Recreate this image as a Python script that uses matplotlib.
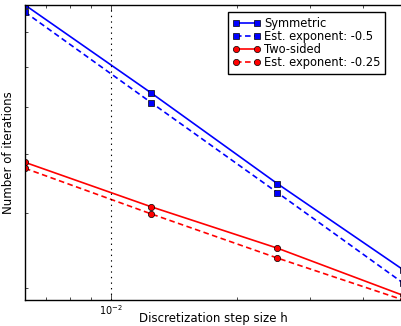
import numpy as np
import matplotlib
matplotlib.use("Agg")
import matplotlib.pyplot as plt
from matplotlib.ticker import NullFormatter, LogFormatterSciNotation

plt.style.use('classic')
plt.rcParams['font.family'] = ['DejaVu Sans']
plt.rcParams['mathtext.fontset'] = 'dejavusans'
plt.rcParams['font.size'] = 8

# step sizes and iteration counts
h = [1/160, 1/80, 1/40, 1/20]
sym_iters = [887, 633, 447, 321]
sym_fit = [863, 610, 432, 305]
two_iters = [485, 409, 349, 291]
two_fit = [474, 398, 336, 286]

labels = ['Symmetric', 'Est. exponent: -0.5', 'Two-sided', 'Est. exponent: -0.25']

fig = plt.figure(figsize=(4.01, 3.26), dpi=100, facecolor='white')
# right edge of the axes lies just outside the picture
ax = fig.add_axes([25/401, 26/326, 385/401, 295/326])

dash = (4, 2.5)
ax.plot(h, sym_iters, 'b-', marker='s', ms=5, mec='k', mew=0.5, lw=1.2, label=labels[0])
ax.plot(h, sym_fit, 'b--', marker='s', ms=5, mec='k', mew=0.5, lw=1.2, dashes=dash, label=labels[1])
ax.plot(h, two_iters, 'r-', marker='o', ms=4.5, mec='k', mew=0.5, lw=1.2, label=labels[2])
ax.plot(h, two_fit, 'r--', marker='o', ms=4.5, mec='k', mew=0.5, lw=1.2, dashes=dash, label=labels[3])

ax.axvline(1e-2, color='k', ls=':', lw=0.8)

ax.set_xscale('log')
ax.set_yscale('log')
allv = sym_iters + sym_fit + two_iters + two_fit
ax.set_ylim(min(allv), max(allv))
ax.set_xlim(h[0], 10 ** (np.log10(h[0]) + 385 / 419))

ax.xaxis.set_major_formatter(LogFormatterSciNotation())
ax.xaxis.set_minor_formatter(NullFormatter())
ax.yaxis.set_major_formatter(NullFormatter())
ax.yaxis.set_minor_formatter(NullFormatter())
ax.tick_params(labelsize=7, pad=2)

ax.set_xlabel('Discretization step size h', fontsize=8.5)
ax.set_ylabel('Number of iterations', fontsize=8.5)
ax.yaxis.set_label_coords(-10/385, 0.5)
ax.xaxis.set_label_coords(0.49, -12/295)

ax.legend(loc='upper right', bbox_to_anchor=(385/401, 1 - 12/326),
          bbox_transform=fig.transFigure, borderaxespad=0, numpoints=2,
          fontsize=8.3, labelspacing=0.02, handlelength=2.4,
          handletextpad=0.3, borderpad=0.4, fancybox=False)

fig.savefig('out.png', dpi=100)
